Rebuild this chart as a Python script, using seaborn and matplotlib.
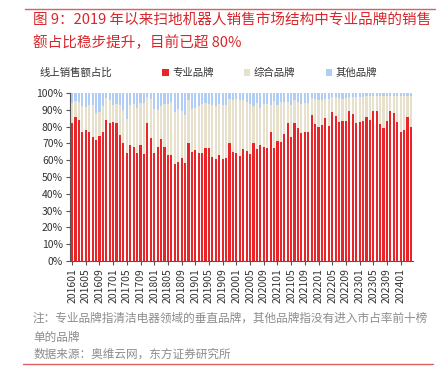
import numpy as np
import pandas as pd
import seaborn as sns
import matplotlib.pyplot as plt
from matplotlib.patches import Patch
from matplotlib.lines import Line2D

# monthly categories 201601 .. 202404
months = [f"{y}{m:02d}" for y in range(2016, 2025) for m in range(1, 13)][:100]

# share of online sales (%)
pro = [82, 86, 84, 77, 78, 77, 74, 72, 74.5, 76.5,
       84, 82, 83, 82, 75, 70, 64, 69, 68, 64.5,
       69, 63.5, 82, 73.5, 64.5, 68, 72.5, 68, 63, 63,
       58, 59, 61.5, 58.5, 70.5, 65, 66, 64.5, 64.5, 67,
       67, 62, 61, 63, 61, 61.5, 70.5, 65, 64.5, 62.5,
       66.5, 65.5, 63.5, 70, 66.5, 69, 68, 67, 77, 67.5,
       71.5, 71, 75.5, 82, 74, 82, 79, 76, 77, 77,
       87, 81.5, 80, 81, 85, 80.5, 88.5, 86.5, 82.5, 83.5,
       83.5, 89, 87.5, 82, 83, 83.5, 85.5, 84, 89, 89.5,
       81.5, 79, 83.5, 89, 88, 82.5, 76.5, 78, 86, 80]
comp = [12.3, 9, 10.8, 15.2, 13.6, 15.8, 18.8, 16.3, 14.3, 15.7,
        13.3, 13.8, 9.8, 11.4, 17.8, 19.8, 20.8, 24, 25.2, 26.7,
        25.2, 30.7, 15.6, 22.8, 26, 21.8, 19.8, 25.6, 30.6, 31.6,
        30.7, 31.2, 27.9, 28.5, 25.3, 25.3, 25.1, 27.6, 29.2, 27.1,
        26.6, 31, 31.4, 30.5, 31.9, 31.5, 25.7, 31, 31.7, 33.3,
        29.1, 29.3, 30.1, 22.2, 27.7, 22.2, 25.6, 26.2, 15.8, 27.7,
        21.3, 23.8, 19.3, 12.8, 18.8, 13.6, 15.8, 17.6, 17.2, 17.2,
        10.2, 14.7, 16, 15, 11.2, 15.7, 9.1, 11.1, 14.7, 12.7,
        13.7, 8.6, 10.1, 15.6, 14.6, 14.1, 12.5, 14, 9, 8.7,
        16.7, 19.2, 14.5, 9, 10, 15.5, 21.7, 20.2, 12, 18]
other = [5.7, 5, 5.2, 7.8, 8.4, 7.2, 7.2, 11.7, 11.2, 7.8,
         2.7, 4.2, 7.2, 6.6, 7.2, 10.2, 15.2, 7, 6.8, 8.8,
         5.8, 5.8, 2.4, 3.7, 9.5, 10.2, 7.7, 6.4, 6.4, 5.4,
         11.3, 9.8, 10.6, 13, 4.2, 9.7, 8.9, 7.9, 6.3, 5.9,
         6.4, 7, 7.6, 6.5, 7.1, 7, 3.8, 4, 3.8, 4.2,
         4.4, 5.2, 6.4, 7.8, 5.8, 8.8, 6.4, 6.8, 7.2, 4.8,
         7.2, 5.2, 5.2, 5.2, 7.2, 4.4, 5.2, 6.4, 5.8, 5.8,
         2.8, 3.8, 4, 4, 3.8, 3.8, 2.4, 2.4, 2.8, 3.8,
         2.8, 2.4, 2.4, 2.4, 2.4, 2.4, 2, 2, 2, 1.8,
         1.8, 1.8, 2, 2, 2, 2, 1.8, 1.8, 2, 2]

series_names = ["专业品牌", "综合品牌", "其他品牌"]
colors = ["#E8262A", "#E7E0CC", "#AFCDF5"]

sns.set_theme(style="white")
plt.rcParams["font.family"] = ["Noto Sans CJK SC", "DejaVu Sans"]

df = pd.DataFrame({"month": months, "pro": pro, "comp": comp, "other": other})
df["top2"] = df["pro"] + df["comp"]
df["top3"] = df["top2"] + df["other"]

fig = plt.figure(figsize=(4.4, 3.7), dpi=100)
ax = fig.add_axes([70 / 440, 1 - 261 / 370, 343 / 440, 168 / 370])

# stacked bars: draw cumulative totals back to front
for col, c in zip(["top3", "top2", "pro"], colors[::-1]):
    sns.barplot(data=df, x="month", y=col, color=c, saturation=1,
                width=0.62, errorbar=None, linewidth=0, edgecolor="none", ax=ax)

ax.set_xlim(-0.6, 99.6)
ax.set_ylim(0, 100)
ax.set_yticks(range(0, 101, 10))
ax.set_yticklabels([f"{v}%" for v in range(0, 101, 10)], fontsize=7.5, color="#333333")
ax.set_xticks(range(0, 100, 4))
ax.set_xticklabels(months[::4], rotation=90, fontsize=7.5, color="#333333")
ax.set_xlabel("")
ax.set_ylabel("")
for s in ["top", "right"]:
    ax.spines[s].set_visible(False)
for s in ["left", "bottom"]:
    ax.spines[s].set_color("#555555")
    ax.spines[s].set_linewidth(0.8)
ax.tick_params(axis="both", direction="out", length=3, width=0.8, color="#555555", pad=2,
               left=True, bottom=True)

# legend
handles = [Patch(facecolor=c, edgecolor="none") for c in colors]
fig.legend(handles, series_names, loc="center left", bbox_to_anchor=(153 / 440, 1 - 73 / 370),
           ncol=3, frameon=False, fontsize=7.5, handlelength=0.6, handleheight=0.6,
           handletextpad=0.35, columnspacing=2.9, labelcolor="#333333")
fig.text(40 / 440, 1 - 73 / 370, "线上销售额占比", fontsize=7.5, color="#333333", va="center")

# header / footer
red = "#D9262B"
fig.add_artist(Line2D([25 / 440, 435 / 440], [1 - 9 / 370] * 2, color="#E06060", lw=1))
fig.text(33 / 440, 1 - 20 / 370, "图 9：2019 年以来扫地机器人销售市场结构中专业品牌的销售",
         fontsize=10.5, color=red, va="center")
fig.text(33 / 440, 1 - 43 / 370, "额占比稳步提升，目前已超 80%",
         fontsize=10.5, color=red, va="center")
gray = "#8C8C8C"
fig.text(33 / 440, 1 - 318 / 370, "注：专业品牌指清洁电器领域的垂直品牌，其他品牌指没有进入市占率前十榜",
         fontsize=8.4, color=gray, va="center")
fig.text(33 / 440, 1 - 337 / 370, "单的品牌", fontsize=8.4, color=gray, va="center")
fig.text(33 / 440, 1 - 354 / 370, "数据来源：奥维云网，东方证券研究所", fontsize=8.4, color=gray, va="center")
fig.add_artist(Line2D([23 / 440, 433 / 440], [1 - 364 / 370] * 2, color="#E06060", lw=1))

fig.savefig("out.png", dpi=100)
